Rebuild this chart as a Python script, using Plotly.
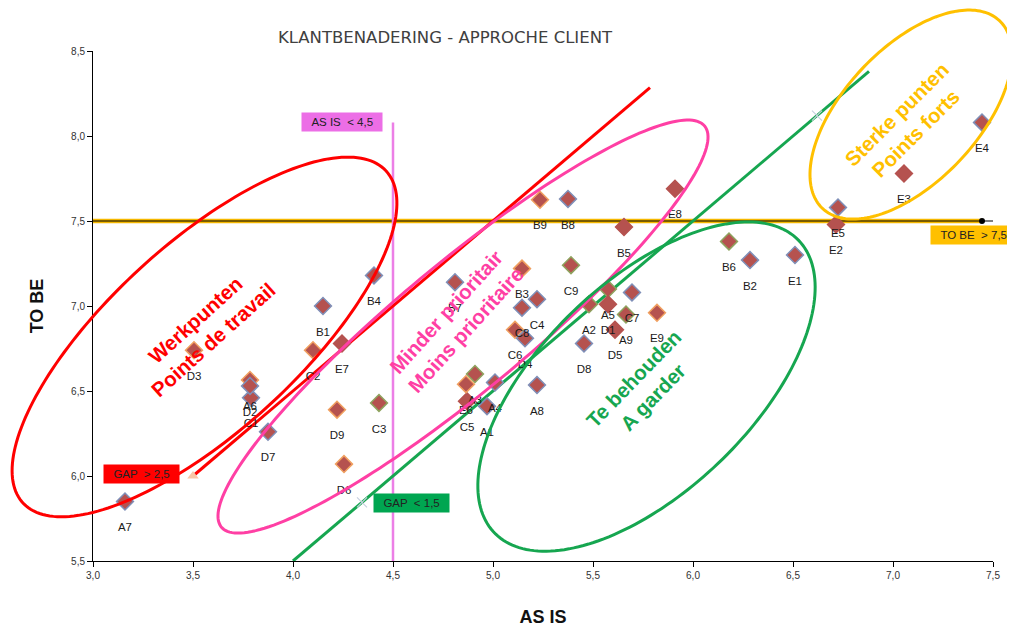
import numpy as np
import plotly.graph_objects as go

# ---------------- data ----------------
labels = ["A1","A2","A3","A4","A5","A6","A7","A8","A9",
          "B1","B2","B3","B4","B5","B6","B7","B8","B9",
          "C1","C2","C3","C4","C5","C6","C7","C8","C9",
          "D1","D2","D3","D4","D5","D6","D7","D8","D9",
          "E1","E2","E3","E4","E5","E6","E7","E8","E9"]
as_is = [4.97,5.48,4.91,5.01,5.575,3.785,3.16,5.22,5.665,
         4.15,6.285,5.145,4.405,5.655,6.18,4.81,5.375,5.235,
         3.79,4.10,4.43,5.22,4.87,5.11,5.695,5.145,5.39,
         5.575,3.785,3.505,5.16,5.61,4.255,3.875,5.455,4.22,
         6.51,6.715,7.055,7.445,6.725,4.865,4.245,5.91,5.82]
to_be = [6.41,7.01,6.60,6.55,7.10,6.565,5.85,6.535,6.95,
         7.00,7.27,7.22,7.18,7.465,7.38,7.14,7.63,7.625,
         6.46,6.74,6.43,7.04,6.44,6.86,7.08,6.99,7.24,
         7.01,6.53,6.74,6.81,6.86,6.07,6.26,6.78,6.39,
         7.30,7.48,7.78,8.08,7.58,6.54,6.78,7.69,6.96]
border_group = ["b","g","g","b","g","o","b","b","g",
                "b","b","o","b","n","g","b","b","o",
                "b","o","g","b","n","o","b","b","g",
                "n","b","o","b","n","o","b","b","o",
                "b","n","n","b","b","o","n","n","o"]

title = "KLANTBENADERING - APPROCHE CLIENT"
x_title = "AS IS"
y_title = "TO BE"
x_ticks = [3.0,3.5,4.0,4.5,5.0,5.5,6.0,6.5,7.0,7.5]
y_ticks = [5.5,6.0,6.5,7.0,7.5,8.0,8.5]
x_range = [3.0, 7.5]
y_range = [5.5, 8.5]

# thresholds
tobe_limit = 7.5
asis_limit = 4.5
gap_high = 2.5
gap_low = 1.5

# zones: (centre x, centre y, semi-major px, semi-minor px, angle deg, colour)
zones = [
    (3.5575, 6.818, 246, 94, 42.4, "#ff0000"),
    (4.85, 6.879, 314, 64, 39.7, "#ff3fa4"),
    (5.7675, 6.526, 211, 105, 43.85, "#16a650"),
    (7.09, 8.126, 129, 67, 46.7, "#ffc000"),
]
zone_texts = [
    ("Werkpunten<br>Points de travail", 3.555, 6.86, -42, "#ff0000"),
    ("Minder prioritair<br>Moins prioritaire", 4.815, 6.91, -48, "#ff3fa4"),
    ("Te behouden<br>A garder", 5.75, 6.52, -46, "#16a650"),
    ("Sterke punten<br>Points forts", 7.065, 8.07, -45, "#ffc000"),
]

# ---------------- figure ----------------
W, H = 1007, 621
ml, mr, mt, mb = 85, 22, 43, 68
pw, ph = W - ml - mr, H - mt - mb
fig = go.Figure()

bcol = {"b": "#7f8fb8", "g": "#8ea35e", "o": "#f0a060", "n": "#b5524f"}

# threshold lines
fig.add_trace(go.Scatter(x=[x_range[0], 7.445], y=[tobe_limit, tobe_limit], mode="lines",
                         line=dict(color="#f5b800", width=4.5), hoverinfo="skip", showlegend=False))
fig.add_trace(go.Scatter(x=[x_range[0], 7.445, 7.5], y=[tobe_limit]*3, mode="lines",
                         line=dict(color="#000000", width=1.2), hoverinfo="skip", showlegend=False))
fig.add_trace(go.Scatter(x=[7.445], y=[tobe_limit], mode="markers",
                         marker=dict(color="#000", size=6), hoverinfo="skip", showlegend=False))
fig.add_trace(go.Scatter(x=[asis_limit, asis_limit], y=[y_range[0], 8.08], mode="lines",
                         line=dict(color="#ec7fe6", width=2.5), hoverinfo="skip", showlegend=False))
fig.add_trace(go.Scatter(x=[3.5, 5.785], y=[3.5 + gap_high, 5.785 + gap_high], mode="lines",
                         line=dict(color="#ff0000", width=3), hoverinfo="skip", showlegend=False))
fig.add_trace(go.Scatter(x=[4.0, 6.88], y=[4.0 + gap_low, 6.88 + gap_low], mode="lines",
                         line=dict(color="#16a650", width=3), hoverinfo="skip", showlegend=False))
fig.add_trace(go.Scatter(x=[3.5], y=[3.5 + gap_high], mode="markers",
                         marker=dict(symbol="triangle-up", color="#f8c8a8", size=10),
                         hoverinfo="skip", showlegend=False))
fig.add_trace(go.Scatter(x=[4.345, 6.62], y=[4.345 + gap_low, 6.62 + gap_low], mode="markers",
                         marker=dict(symbol="x-thin", line=dict(color="#c8d0e0", width=1.2), size=10),
                         hoverinfo="skip", showlegend=False))

# data points
fig.add_trace(go.Scatter(
    x=as_is, y=to_be, mode="markers",
    marker=dict(symbol="diamond", size=13, color="#b5524f",
                line=dict(color=[bcol[g] for g in border_group], width=1.5)),
    showlegend=False, cliponaxis=False))
# labels under the points (invisible larger marker pushes the text down)
fig.add_trace(go.Scatter(
    x=as_is, y=to_be, mode="markers+text", text=labels, textposition="bottom center",
    textfont=dict(family="Liberation Sans, Arial, sans-serif", size=11.5, color="#1a1a1a"),
    marker=dict(size=32, opacity=0), hoverinfo="skip", showlegend=False, cliponaxis=False))

# ellipses as paper-referenced paths (not clipped)
shapes = []
t = np.linspace(0, 2 * np.pi, 200)
for cx, cy, a, b, ang, col in zones:
    th = np.deg2rad(ang)
    dx = a * np.cos(th) * np.cos(t) - b * np.sin(th) * np.sin(t)
    dy = a * np.sin(th) * np.cos(t) + b * np.cos(th) * np.sin(t)
    px = (cx - x_range[0]) / (x_range[1] - x_range[0]) + dx / pw
    py = (cy - y_range[0]) / (y_range[1] - y_range[0]) + dy / ph
    path = "M " + " L ".join(f"{u:.5f},{v:.5f}" for u, v in zip(px, py)) + " Z"
    shapes.append(dict(type="path", xref="paper", yref="paper", path=path,
                       line=dict(color=col, width=3), layer="above"))

annotations = []
for txt, x, y, ang, col in zone_texts:
    annotations.append(dict(x=x, y=y, xref="x", yref="y", text=f"<b>{txt}</b>", showarrow=False,
                            textangle=ang, align="center",
                            font=dict(family="Liberation Sans, Arial, sans-serif", size=20.5, color=col)))

boxes = [
    ("&nbsp;&nbsp;AS IS  &lt; 4,5&nbsp;&nbsp;", 4.245, 8.08, "#ec6ee6", "center"),
    ("&nbsp;&nbsp;GAP  &gt; 2,5&nbsp;&nbsp;", 3.24, 6.01, "#ff0000", "center"),
    ("&nbsp;&nbsp;GAP  &lt; 1,5&nbsp;&nbsp;", 4.59, 5.84, "#00a651", "center"),
    ("&nbsp;&nbsp;TO BE  &gt; 7,5&nbsp;&nbsp;", 7.185, 7.418, "#ffc000", "left"),
]
for txt, x, y, bg, xa in boxes:
    annotations.append(dict(x=x, y=y, xref="x", yref="y", text=txt, showarrow=False, xanchor=xa,
                            bgcolor=bg, borderpad=3,
                            font=dict(family="Liberation Sans, Arial, sans-serif", size=11.5, color="#222")))

axis_font = dict(family="Liberation Sans Narrow, Arial Narrow, sans-serif", size=10, color="#333")
title_font = dict(family="Liberation Sans Narrow, Arial Narrow, sans-serif", size=18, color="#111")
fig.update_layout(
    width=W, height=H, margin=dict(l=ml, r=mr, t=mt, b=mb, autoexpand=False),
    paper_bgcolor="white", plot_bgcolor="white", separators=", ",
    title=dict(text=title, x=437 / W, xanchor="center", y=1 - 29 / H, yanchor="middle",
               font=dict(family="DejaVu Sans, sans-serif", size=16.5, color="#404040")),
    xaxis=dict(range=x_range, tickvals=x_ticks, tickformat=".1f", showgrid=False, zeroline=False,
               showline=True, linecolor="#000", linewidth=1, ticks="outside", ticklen=5,
               tickcolor="#000", tickfont=axis_font, automargin=False,
               title=dict(text=f"<b>{x_title}</b>", standoff=30, font=title_font)),
    yaxis=dict(range=y_range, tickvals=y_ticks, tickformat=".1f", showgrid=False, zeroline=False,
               showline=True, linecolor="#000", linewidth=1, ticks="outside", ticklen=5,
               tickcolor="#000", tickfont=axis_font, automargin=False,
               title=dict(text=f"<b>{y_title}</b>", standoff=22, font=title_font)),
    shapes=shapes, annotations=annotations,
)
fig.write_html("out.html")
